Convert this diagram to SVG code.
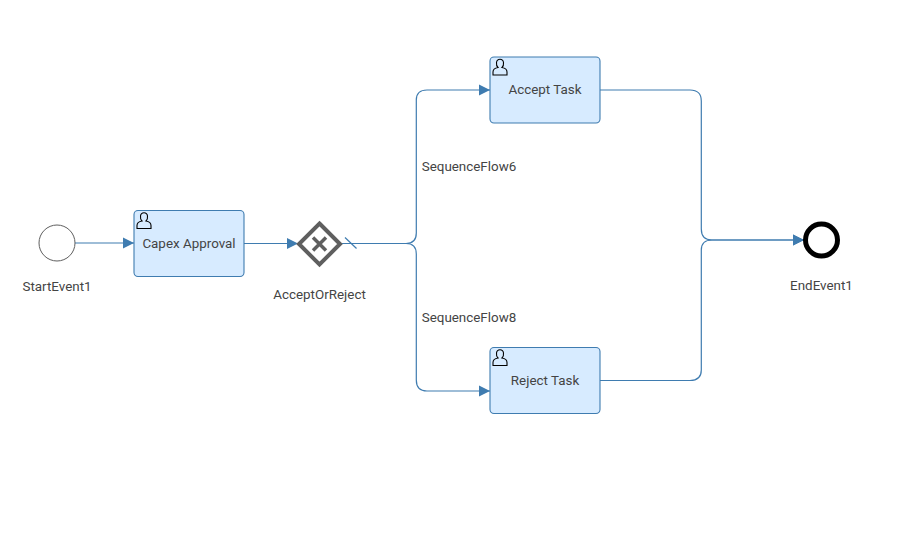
<svg xmlns="http://www.w3.org/2000/svg" width="921" height="536" viewBox="0 0 921 536">
<style>
text{font-family:Roboto,"Liberation Sans",Arial,sans-serif;font-size:13.4px;fill:#444;text-anchor:middle}
.flow{fill:none;stroke:#3f7cb0;stroke-width:1.2}
.task{fill:#d7ebff;stroke:#3f7cb0;stroke-width:1.1}
.user{fill:none;stroke:#000;stroke-width:1.1}
</style>
<defs>
<marker id="arrow" markerUnits="userSpaceOnUse" markerWidth="11" markerHeight="12" refX="11" refY="6" orient="auto"><path d="M0 0.500L11 6L0 11.500Z" fill="#3f7cb0"/></marker>
<symbol id="usr" overflow="visible"><path class="user" d="M4.500 9.500C3 8 2.800 6 3 4.500C3.300 2.500 5 1.300 6.500 1.300C8 1.300 9.700 2.500 10 4.500C10.200 6 10 8 8.500 9.500C11.500 10 13.500 11.500 13.500 14V17H-0.500V14C-0.500 11.500 1.500 10 4.500 9.500Z"/></symbol>
</defs>
<g id="connectors">
<path class="flow" marker-end="url(#arrow)" d="M75 243H134"/>
<path class="flow" marker-end="url(#arrow)" d="M244 243.500H298"/>
<path class="flow" marker-end="url(#arrow)" d="M342 243.500H406Q416.300 243.500 416.300 233V100Q416.300 90 427 90H490"/>
<path class="flow" marker-end="url(#arrow)" d="M342 243.500H406Q416.300 243.500 416.300 254V380Q416.300 391 427 391H490"/>
<path class="flow" marker-end="url(#arrow)" d="M600 90H690Q701.300 90 701.300 101V229Q701.300 240 712 240H804"/>
<path class="flow" marker-end="url(#arrow)" d="M600 380.500H690Q701.300 380.500 701.300 370V250Q701.300 240 712 240H804"/>
<path class="flow" stroke-width="1" d="M345 237.500L356.500 248.500"/>
</g>
<g id="StartEvent1">
<circle cx="57" cy="243" r="18" fill="#fff" stroke="#5f5f5f" stroke-width="1"/>
<text x="57" y="291">StartEvent1</text>
</g>
<g id="CapexApproval">
<rect class="task" x="134" y="210.500" width="110" height="66" rx="4"/>
<use href="#usr" x="137.500" y="211.500"/>
<text x="189" y="248">Capex Approval</text>
</g>
<g id="AcceptOrReject">
<path d="M319.500 223.500L340 244L319.500 264.500L299 244Z" fill="#fff" stroke="#5f5f5f" stroke-width="4"/>
<path d="M313 237.500L326 250.500M326 237.500L313 250.500" fill="none" stroke="#5f5f5f" stroke-width="3.500"/>
<text x="319.500" y="299">AcceptOrReject</text>
</g>
<g id="AcceptTask">
<rect class="task" x="490" y="57" width="110" height="66" rx="4"/>
<use href="#usr" x="493.500" y="58"/>
<text x="545" y="94">Accept Task</text>
</g>
<g id="RejectTask">
<rect class="task" x="490" y="347.500" width="110" height="66" rx="4"/>
<use href="#usr" x="493.500" y="348.500"/>
<text x="545" y="385">Reject Task</text>
</g>
<g id="EndEvent1">
<circle cx="821.500" cy="240" r="16" fill="#fff" stroke="#000" stroke-width="5"/>
<text x="821.500" y="290">EndEvent1</text>
</g>
<g id="labels">
<text x="469" y="171">SequenceFlow6</text>
<text x="469" y="322">SequenceFlow8</text>
</g>
</svg>
